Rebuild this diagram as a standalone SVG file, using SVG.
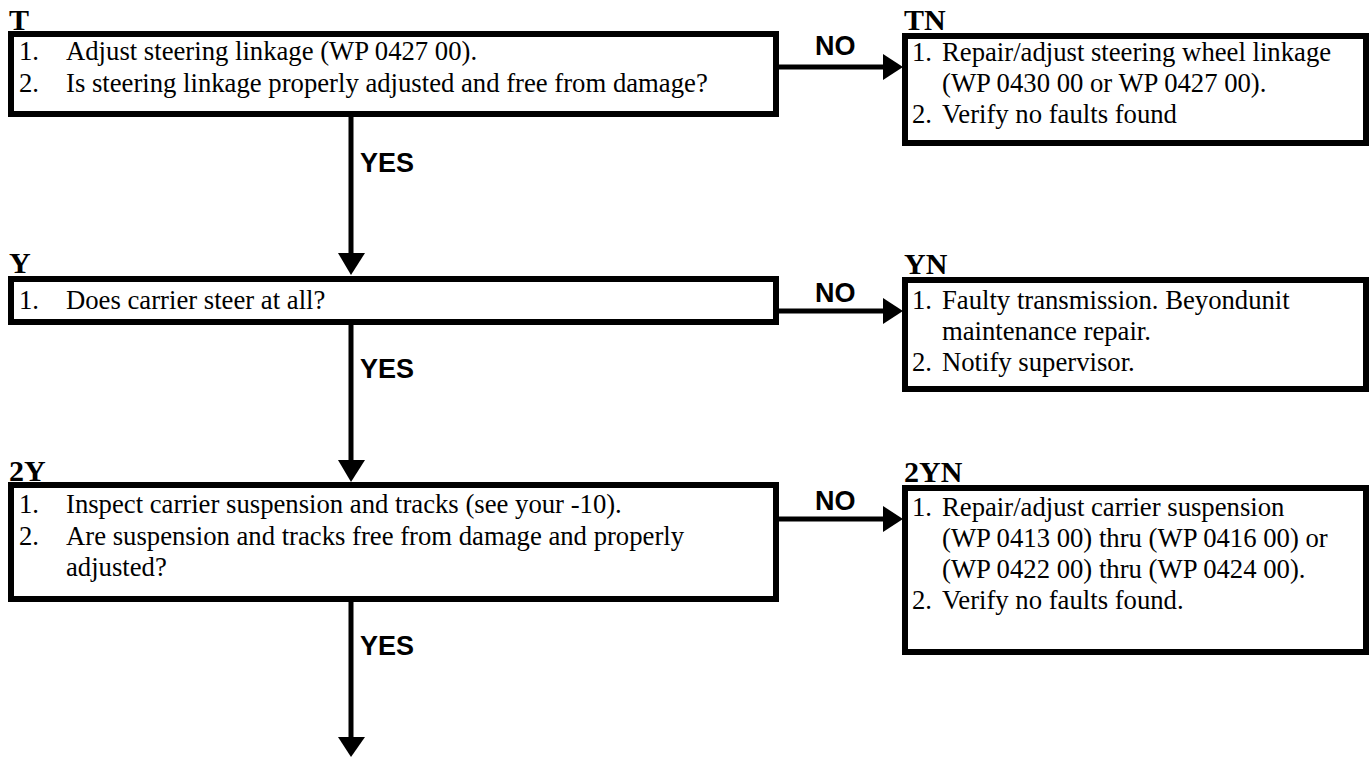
<svg xmlns="http://www.w3.org/2000/svg" width="1372" height="757" viewBox="0 0 1372 757">
<style>
.box{fill:#fff;stroke:#000;stroke-width:6}
.t{font-family:"Liberation Serif","Times New Roman",serif;font-size:26.7px;fill:#000}
.lbl{font-family:"Liberation Serif","Times New Roman",serif;font-size:30px;font-weight:bold;fill:#000}
.yn{font-family:"Liberation Sans",Arial,sans-serif;font-size:27px;font-weight:bold;fill:#000}
.ln{stroke:#000;stroke-width:5;fill:none}
.ah{fill:#000}
</style>
<rect width="1372" height="757" fill="#fff"/>
<g id="node-T">
<text class="lbl" x="9" y="30">T</text>
<rect class="box" x="11" y="34" width="765" height="80"/>
<text class="t" x="19" y="60">1.</text><text class="t" x="66" y="60">Adjust steering linkage (WP 0427 00).</text>
<text class="t" x="19" y="92">2.</text><text class="t" x="66" y="92">Is steering linkage properly adjusted and free from damage?</text>
</g>
<g id="node-TN">
<text class="lbl" x="904" y="30">TN</text>
<rect class="box" x="905" y="36" width="461" height="107"/>
<text class="t" x="912" y="61">1.</text><text class="t" x="942" y="61">Repair/adjust steering wheel linkage</text>
<text class="t" x="942" y="92">(WP 0430 00 or WP 0427 00).</text>
<text class="t" x="912" y="123">2.</text><text class="t" x="942" y="123">Verify no faults found</text>
</g>
<g id="node-Y">
<text class="lbl" x="9" y="273">Y</text>
<rect class="box" x="11" y="279" width="765" height="43"/>
<text class="t" x="19" y="309">1.</text><text class="t" x="66" y="309">Does carrier steer at all?</text>
</g>
<g id="node-YN">
<text class="lbl" x="904" y="274">YN</text>
<rect class="box" x="905" y="280" width="461" height="109"/>
<text class="t" x="912" y="309">1.</text><text class="t" x="942" y="309">Faulty transmission. Beyondunit</text>
<text class="t" x="942" y="340">maintenance repair.</text>
<text class="t" x="912" y="371">2.</text><text class="t" x="942" y="371">Notify supervisor.</text>
</g>
<g id="node-2Y">
<text class="lbl" x="9" y="481">2Y</text>
<rect class="box" x="11" y="485" width="765" height="114"/>
<text class="t" x="19" y="513">1.</text><text class="t" x="66" y="513">Inspect carrier suspension and tracks (see your -10).</text>
<text class="t" x="19" y="545">2.</text><text class="t" x="66" y="545">Are suspension and tracks free from damage and properly</text>
<text class="t" x="66" y="576">adjusted?</text>
</g>
<g id="node-2YN">
<text class="lbl" x="904" y="482">2YN</text>
<rect class="box" x="905" y="488" width="461" height="164"/>
<text class="t" x="912" y="516">1.</text><text class="t" x="942" y="516">Repair/adjust carrier suspension</text>
<text class="t" x="942" y="547">(WP 0413 00) thru (WP 0416 00) or</text>
<text class="t" x="942" y="578">(WP 0422 00) thru (WP 0424 00).</text>
<text class="t" x="912" y="609">2.</text><text class="t" x="942" y="609">Verify no faults found.</text>
</g>
<g id="connectors">
<line class="ln" x1="779" y1="67" x2="885" y2="67"/><polygon class="ah" points="883,54 903,67 883,80"/>
<text class="yn" x="815" y="55">NO</text>
<line class="ln" x1="351" y1="117" x2="351" y2="255"/><polygon class="ah" points="338,253 365,253 351,275"/>
<text class="yn" x="360" y="172">YES</text>
<line class="ln" x1="779" y1="311" x2="885" y2="311"/><polygon class="ah" points="883,298 903,311 883,324"/>
<text class="yn" x="815" y="302">NO</text>
<line class="ln" x1="351" y1="325" x2="351" y2="462"/><polygon class="ah" points="338,460 365,460 351,482"/>
<text class="yn" x="360" y="378">YES</text>
<line class="ln" x1="779" y1="519" x2="885" y2="519"/><polygon class="ah" points="883,506 903,519 883,532"/>
<text class="yn" x="815" y="510">NO</text>
<line class="ln" x1="351" y1="602" x2="351" y2="739"/><polygon class="ah" points="338,737 365,737 351,757"/>
<text class="yn" x="360" y="655">YES</text>
</g>
</svg>
